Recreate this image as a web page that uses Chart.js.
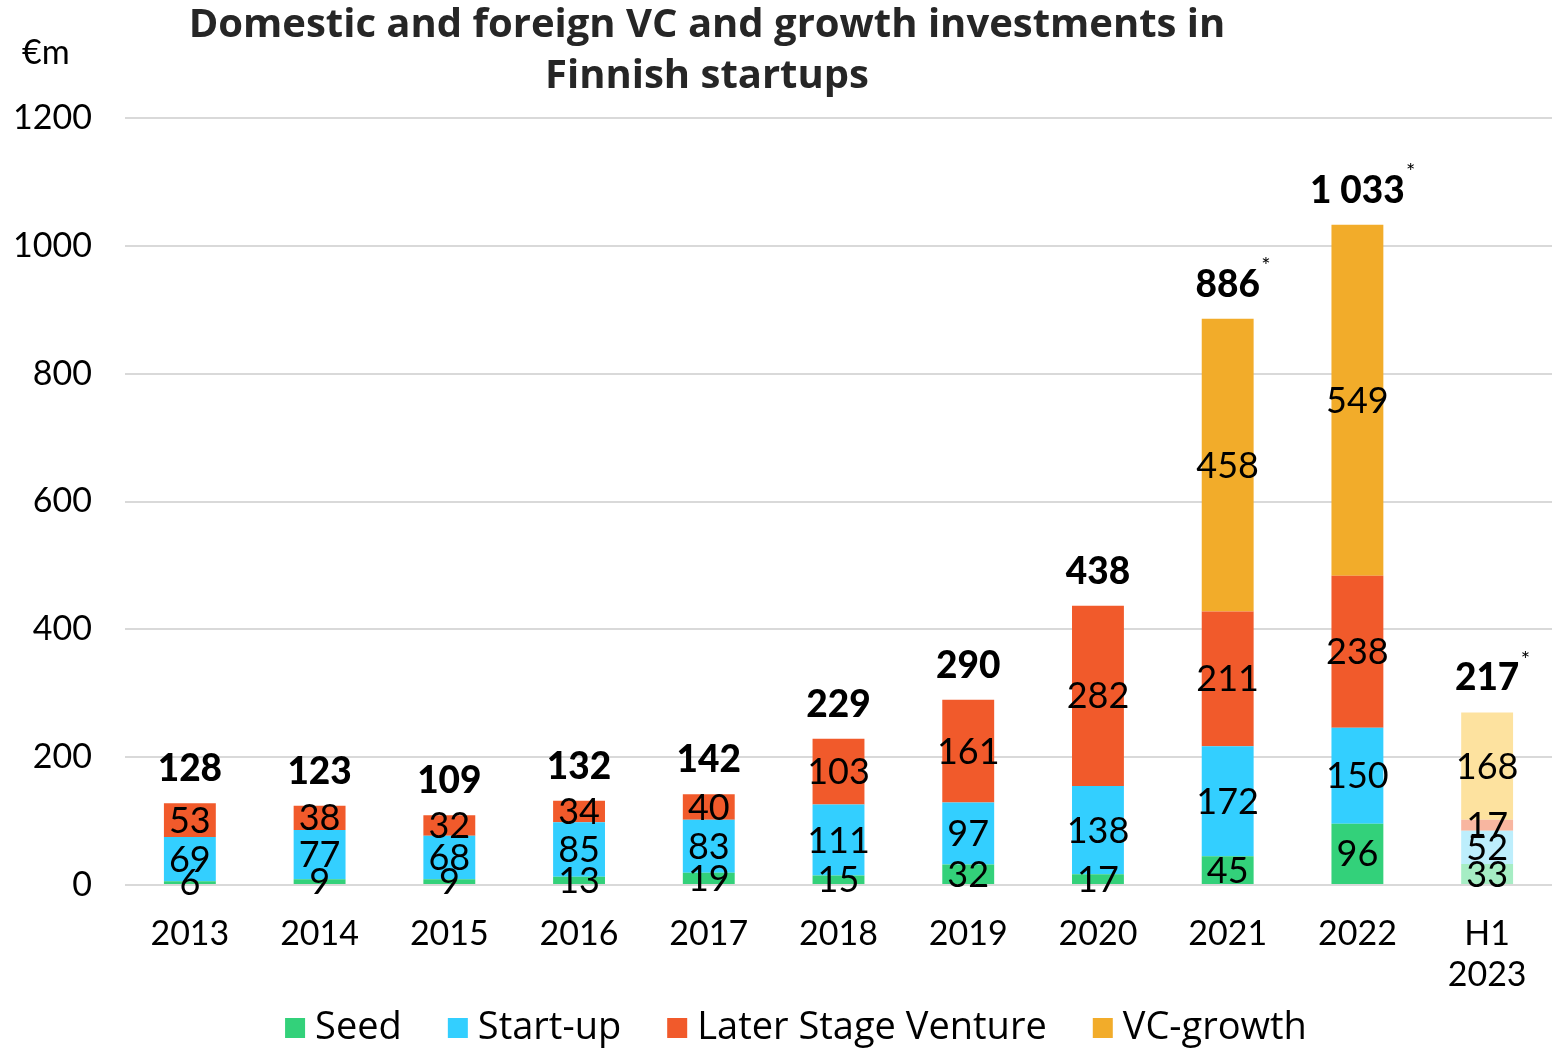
<!DOCTYPE html>
<html>
<head>
<meta charset="utf-8">
<script src="https://cdn.jsdelivr.net/npm/chart.js@4"></script>
<style>
  body { margin: 0; background: #fff; }
  #chart { display: block; }
</style>
</head>
<body>
<canvas id="chart" width="1555" height="1050"></canvas>
<script>
const categories = ["2013", "2014", "2015", "2016", "2017", "2018", "2019", "2020", "2021", "2022", ["H1", "2023"]];
const seed = [6, 9, 9, 13, 19, 15, 32, 17, 45, 96, 33];
const startUp = [69, 77, 68, 85, 83, 111, 97, 138, 172, 150, 52];
const laterStage = [53, 38, 32, 34, 40, 103, 161, 282, 211, 238, 17];
const vcGrowth = [null, null, null, null, null, null, null, null, 458, 549, 168];
const totalLabels = ["128", "123", "109", "132", "142", "229", "290", "438", "886", "1 033", "217"];
const starred = [false, false, false, false, false, false, false, false, true, true, true];
const yTicks = [0, 200, 400, 600, 800, 1000, 1200];

const FONT = "Lato, 'Noto Sans', sans-serif";
const TEXT_FONT = "'Open Sans', 'Noto Sans', sans-serif";

// last bar (H1 2023) is drawn in faded colours
function colours(main, faded) {
    return categories.map((c, i) => i === categories.length - 1 ? faded : main);
}

const barLabels = {
    id: "barLabels",
    afterDatasetsDraw(chart) {
        const ctx = chart.ctx;
        ctx.save();
        ctx.fillStyle = "#000";
        ctx.textAlign = "center";
        ctx.textBaseline = "middle";
        ctx.font = "36px " + FONT;

        const tops = [];
        chart.data.datasets.forEach((ds, di) => {
            const meta = chart.getDatasetMeta(di);
            meta.data.forEach((bar, i) => {
                const v = ds.data[i];
                if (v == null) return;
                ctx.fillText(String(v), bar.x, (bar.y + bar.base) / 2 + 1);
                if (tops[i] == null || bar.y < tops[i].y) {
                    tops[i] = { x: bar.x, y: bar.y };
                }
            });
        });

        tops.forEach((t, i) => {
            const ly = t.y - 34;
            ctx.font = "900 37px " + FONT;
            ctx.fillText(totalLabels[i], t.x, ly);
            if (starred[i]) {
                const w = ctx.measureText(totalLabels[i]).width;
                ctx.font = "22px " + FONT;
                ctx.fillText("*", t.x + w / 2 + 6, ly - 19);
            }
        });

        // title and unit
        ctx.font = "bold 40px " + TEXT_FONT;
        ctx.fillStyle = "#262626";
        ctx.fillText("Domestic and foreign VC and growth investments in", 707, 26);
        ctx.fillText("Finnish startups", 707, 77);
        ctx.font = "34px " + FONT;
        ctx.fillStyle = "#000";
        ctx.textAlign = "left";
        ctx.fillText("€m", 22, 53);

        // legend along the bottom
        ctx.font = "38px " + TEXT_FONT;
        const items = chart.data.datasets.map(ds => ({
            text: ds.label,
            color: ds.backgroundColor[0],
            w: 20 + 10 + ctx.measureText(ds.label).width
        }));
        const gap = 46;
        const total = items.reduce((s, it) => s + it.w, 0) + gap * (items.length - 1);
        let x = 796 - total / 2;
        const y = 1028;
        items.forEach(it => {
            ctx.fillStyle = it.color;
            ctx.fillRect(x, y - 10, 20, 20);
            ctx.fillStyle = "#000";
            ctx.fillText(it.text, x + 30, y);
            x += it.w + gap;
        });
        ctx.restore();
    }
};

const ctx = document.getElementById("chart");

new Chart(ctx, {
    type: "bar",
    data: {
        labels: categories,
        datasets: [
            {
                label: "Seed",
                data: seed,
                backgroundColor: colours("#33D17A", "#A6EDC4")
            },
            {
                label: "Start-up",
                data: startUp,
                backgroundColor: colours("#33CFFF", "#BDEEFC")
            },
            {
                label: "Later Stage Venture",
                data: laterStage,
                backgroundColor: colours("#F15A2B", "#F8B6A0")
            },
            {
                label: "VC-growth",
                data: vcGrowth,
                backgroundColor: colours("#F2AC2A", "#FDE29F")
            }
        ]
    },
    options: {
        responsive: false,
        animation: false,
        barPercentage: 0.4,
        categoryPercentage: 1,
        layout: {
            padding: { top: 118, right: 3, left: 0, bottom: 52 }
        },
        plugins: {
            title: { display: false },
            tooltip: { enabled: false },
            legend: { display: false }
        },
        scales: {
            x: {
                stacked: true,
                grid: { display: false },
                border: { display: false },
                ticks: {
                    color: "#000",
                    font: { family: FONT, size: 34, lineHeight: 1.2 },
                    padding: 21,
                    maxRotation: 0
                },
                afterFit(scale) {
                    scale.height = 113;
                }
            },
            y: {
                stacked: true,
                min: 0,
                max: 1200,
                border: { display: false },
                grid: { color: "#d9d9d9", lineWidth: 2, drawTicks: false },
                afterBuildTicks(scale) {
                    scale.ticks = yTicks.map(v => ({ value: v }));
                },
                ticks: {
                    color: "#000",
                    font: { family: FONT, size: 34 },
                    padding: 33,
                    callback: v => String(v)
                },
                afterFit(scale) {
                    scale.width = 125;
                }
            }
        }
    },
    plugins: [barLabels]
});
</script>
</body>
</html>
